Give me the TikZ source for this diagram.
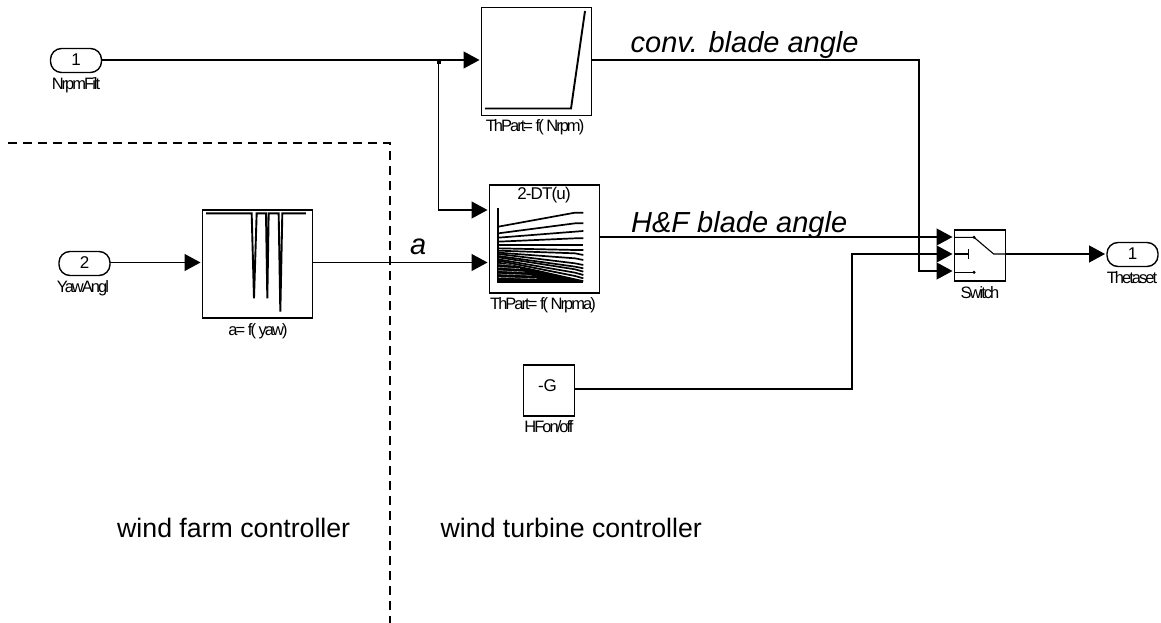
\documentclass[tikz,border=0pt]{standalone}
\usepackage{fontspec}
\setmainfont{Liberation Sans}
\newfontfamily\tightfont[LetterSpace=-12]{Liberation Sans}
\newfontfamily\semitight[LetterSpace=-5]{Liberation Sans}
\usetikzlibrary{arrows.meta}
\tikzset{x=1pt,y=-1pt,
 wire/.style={line width=1.3pt,-{Triangle[length=16pt,width=17pt]},shorten >=2pt},
 blockbox/.style={draw,line width=1.6pt,inner sep=0pt,fill=white},
 port/.style={draw,line width=1.4pt,rounded corners=11pt,inner sep=0pt,minimum width=51pt,minimum height=24pt,font=\fontsize{17}{17}\selectfont,fill=white},
 tiny/.style={font=\tightfont\fontsize{16.5}{17}\selectfont,inner sep=0pt},
 biglabel/.style={font=\fontsize{26.7}{28}\selectfont,inner sep=0pt,anchor=base west},
 itlabel/.style={font=\itshape\fontsize{29}{31}\selectfont,inner sep=0pt,anchor=base west},
 curve/.style={line width=1.9pt},
}
\begin{document}
\begin{tikzpicture}
\useasboundingbox (0,0) rectangle (1161,623);
% dashed boundary
\coordinate (d0) at (8,143); \coordinate (d1) at (390,143); \coordinate (d2) at (390,623);
\draw[line width=1.4pt,dash pattern=on 9pt off 6pt] (d0) -- (d1) -- (d2);
% blocks
\node[port] (in1) at (76,60.5) {\raisebox{2pt}{1}};
\node[tiny] (in1l) at (76,85) {NrpmFilt};
\node[port] (in2) at (84.5,263.5) {\raisebox{2pt}{2}};
\node[tiny] (in2l) at (83,288) {YawAngl};
\node[port] (out1) at (1132.5,254.5) {\raisebox{2pt}{1}};
\node[tiny] (out1l) at (1132,278) {Thetaset};
\node[blockbox,minimum width=110pt,minimum height=108pt] (b1) at (536.5,61.5) {};
\node[tiny] (b1l) at (535,127) {ThPart= f( Nrpm)};
\node[blockbox,minimum width=110pt,minimum height=108pt] (b2) at (544.5,239) {};
\node[tiny] (b2l) at (543,305) {ThPart= f( Nrpma)};
\node[font=\semitight\fontsize{17}{17}\selectfont,inner sep=0pt] (b2t) at (544,195) {2-DT(u)};
\node[blockbox,minimum width=110pt,minimum height=108pt] (ba) at (257.5,264) {};
\node[tiny] (bal) at (258,331) {a= f( yaw)};
\node[blockbox,minimum width=51pt,minimum height=51pt] (sw) at (980,255.5) {};
\node[tiny] (swl) at (980,293) {Switch};
\node[blockbox,minimum width=51pt,minimum height=51pt] (g) at (549,390.3) {};
\node[font=\fontsize{17}{17}\selectfont,inner sep=0pt] (gt) at (547.5,386) {-G};
\node[tiny] (gl) at (549,427) {HFon/off};
% inner graphs
\draw[curve] (485,108.5) -- (571,108.5) -- (585,11);
\begin{scope}[shift={(180,190)},x=0.3333pt,y=-0.3333pt]
\draw[curve] (78,70) -- (215,70) -- (222,325) -- (230,70) -- (258,70) -- (262,325) -- (266,70) -- (296,70) -- (301,365) -- (307,70) -- (378,70);
\end{scope}
\begin{scope}[shift={(470,170)},x=0.3333pt,y=-0.3333pt]
\draw[line width=1.7pt] (85,115) -- (85,335) -- (340,335);
\foreach \l/\m/\r in {170/128/128,190/160/160,203/185/183,215/205/205,225/225/225,235/240/240,242/250/255,248/265/270,252/280/285,258/290/295,262/298/305,268/308/315,272/318/325}
  \draw[line width=1.7pt] (85,\l) -- (315,\m) -- (340,\r);
\fill (85,275) -- (190,297) -- (340,331) -- (340,335) -- (85,335) -- cycle;
\foreach \l/\c in {282/130,292/150,302/165,312/185,322/200}
  \draw[white,line width=0.3pt] (85,\l) -- (\c,\l+4);
\end{scope}
% switch inner
\begin{scope}[shift={(900,210)},x=0.3333pt,y=-0.3333pt]
\coordinate (s1) at (163,82); \coordinate (s1e) at (222,82);
\coordinate (s2) at (163,132); \coordinate (s2e) at (205,132);
\coordinate (s3) at (163,187); \coordinate (s3e) at (222,187);
\coordinate (s4) at (281,132); \coordinate (s5) at (317,132);
\draw[line width=1.1pt] (s1) -- (s1e) -- (s4) -- (s5);
\draw[line width=1.1pt] (s2) -- (s2e);
\draw[line width=1.1pt] (205,118) -- (205,147);
\draw[line width=1.1pt] (s3) -- (s3e);
\fill (s1e) circle (5); \fill (s3e) circle (5);
\end{scope}
% connectors
\coordinate (in1o) at (102,60);
\coordinate (b1i) at (481.5,60);
\coordinate (j) at (438.5,60);
\coordinate (ji) at (438.5,210);
\coordinate (b2i1) at (489.5,210);
\coordinate (in2o) at (110,262.5);
\coordinate (bai) at (202.5,262.5);
\coordinate (bao) at (312.5,262.5);
\coordinate (b2i2) at (489.5,262.5);
\coordinate (b2o) at (600,237);
\coordinate (sw1) at (954.5,237);
\coordinate (sw2) at (954.5,254);
\coordinate (sw3) at (954.5,271);
\coordinate (swo) at (1005.5,254);
\coordinate (out1i) at (1107,254);
\coordinate (r1) at (919,60);
\coordinate (r2) at (919,271);
\coordinate (gout) at (574.5,389);
\coordinate (g1) at (852,389);
\coordinate (g2) at (852,254);
\coordinate (b1o) at (592,60);
\draw[wire] (in1o) -- (b1i);
\fill (437,60) rectangle (441,64);
\draw[wire] (j) -- (ji) -- (b2i1);
\draw[wire] (in2o) -- (bai);
\draw[wire] (bao) -- (b2i2);
\draw[wire] (b2o) -- (sw1);
\draw[wire] (b1o) -- (r1) -- (r2) -- (sw3);
\draw[wire] (gout) -- (g1) -- (g2) -- (sw2);
\draw[wire] (swo) -- (out1i);
% labels
\node[itlabel] (t1) at (630.5,53) {conv. blade angle};
\node[itlabel] (t2) at (631,232) {H\&F blade angle};
\node[itlabel] (t3) at (410,254) {a};
\node[biglabel] (t4) at (117,537) {wind farm controller};
\node[biglabel] (t5) at (440.5,537) {wind turbine controller};
\end{tikzpicture}
\end{document}
